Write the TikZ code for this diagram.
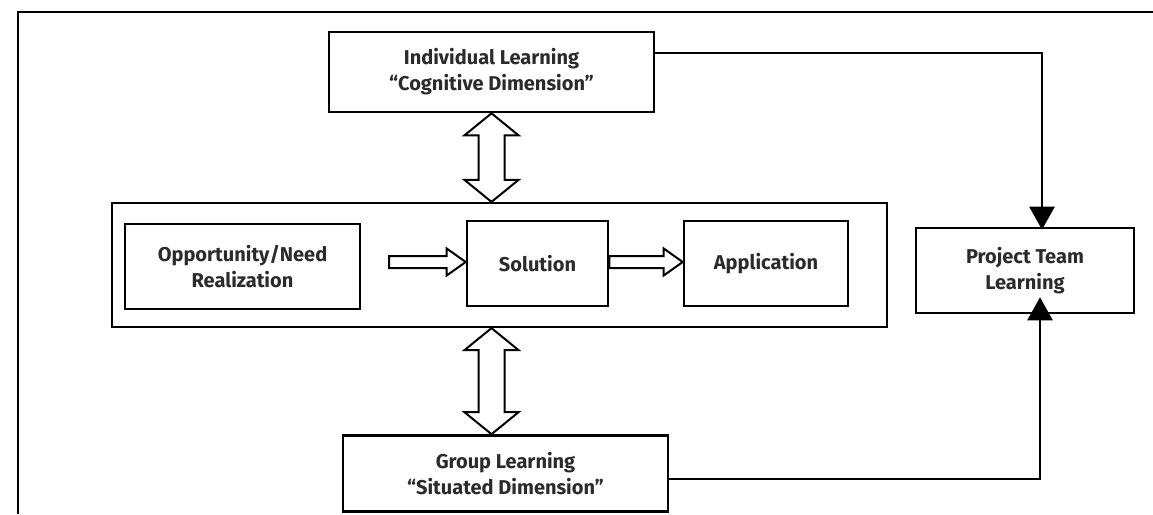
\documentclass[tikz,border=0pt]{standalone}
\usepackage{fontspec}
\setmainfont{Fira Sans}
\usetikzlibrary{arrows.meta,calc}
\definecolor{txt}{HTML}{2B2B2B}
\tikzset{
  box/.style={draw=black, line width=2.6pt, fill=white, align=center, inner sep=0pt,
    text=txt, font=\fontsize{20}{26}\selectfont\bfseries},
  frame/.style={draw=black, line width=2.4pt},
  conn/.style={draw=black, line width=2.6pt, -{Triangle[length=23pt,width=25pt]}},
  hollow/.style={draw=black, line width=2pt, fill=white, line join=miter}
}
\newcommand\hArrow[2]{%
  \draw[hollow] let \p1=(#1),\p2=(#2) in
    (\x1,\y1+6pt) -- (\x2-19pt,\y1+6pt) -- (\x2-19pt,\y1+13.5pt) -- (\x2,\y1)
    -- (\x2-19pt,\y1-13.5pt) -- (\x2-19pt,\y1-6pt) -- (\x1,\y1-6pt) -- cycle;}
\newcommand\vDArrow[2]{%
  \draw[hollow] let \p1=(#1),\p2=(#2) in
    (\x1,\y1) -- (\x1+27pt,\y1-22pt) -- (\x1+13pt,\y1-22pt) -- (\x1+13pt,\y2+22pt)
    -- (\x1+27pt,\y2+22pt) -- (\x1,\y2) -- (\x1-27pt,\y2+22pt) -- (\x1-13pt,\y2+22pt)
    -- (\x1-13pt,\y1-22pt) -- (\x1-27pt,\y1-22pt) -- cycle;}
\begin{document}
\begin{tikzpicture}[x=1pt,y=-1pt]
\useasboundingbox (0,0) rectangle (1153,514);
% open outer frame
\draw[frame] (18,514) -- (18,12) -- (1153,12);

\node[box, minimum width=325pt, minimum height=80pt] (top) at (491.5,72)
  {Individual Learning\\“Cognitive Dimension”};
\node[box, minimum width=775pt, minimum height=124pt, line width=2.2pt] (outer) at (499.5,265) {};
\node[box, minimum width=235pt, minimum height=85pt] (opp) at (242.5,266.5)
  {Opportunity/Need\\Realization};
\node[box, minimum width=141pt, minimum height=85pt] (sol) at (537.5,263.5) {Solution};
\node[box, minimum width=164pt, minimum height=85pt] (app) at (766,263.5) {Application};
\node[box, minimum width=218pt, minimum height=85pt] (proj) at (1025,270.5)
  {Project Team\\Learning};
\node[box, minimum width=325pt, minimum height=76pt] (grp) at (505.5,473.5)
  {Group Learning\\“Situated Dimension”};

\coordinate (s1) at (389,262);
\hArrow{s1}{s1 -| sol.west}
\coordinate (s2) at (sol.east |- s1);
\hArrow{s2}{s2 -| app.west}

\vDArrow{top.south}{top.south |- outer.north}
\coordinate (b1) at (outer.south -| top.south);
\vDArrow{b1}{b1 |- grp.north}

\coordinate (c1) at (1042,53);
\coordinate (c2) at (1040,479);
\draw[conn] (top.east |- c1) -- (c1) -- ([yshift=-3pt]c1 |- proj.north);
\draw[conn] (grp.east |- c2) -- (c2) -- ([yshift=17pt]c2 |- proj.south);
\end{tikzpicture}
\end{document}
